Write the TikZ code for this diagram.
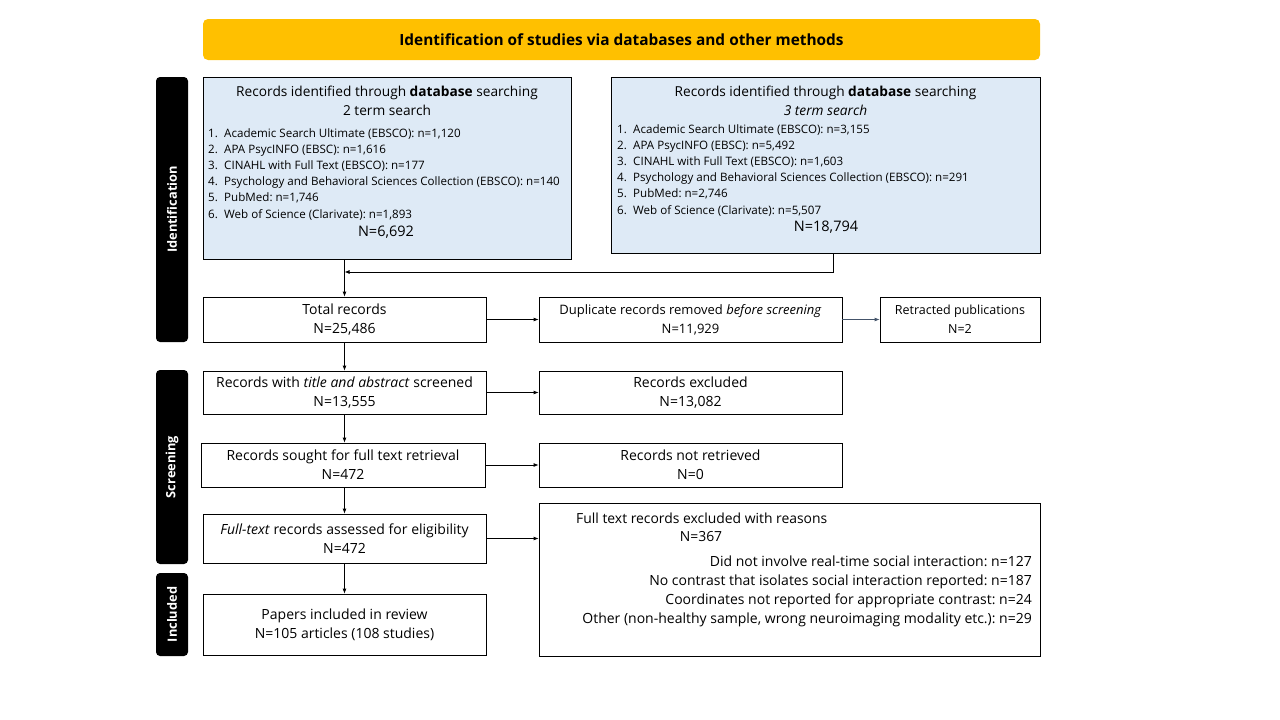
\documentclass[tikz,border=0pt]{standalone}
\usepackage{fontspec}
\setmainfont{Open Sans}
\usetikzlibrary{arrows.meta}
\definecolor{hdr}{HTML}{FFC000}
\definecolor{dbfill}{HTML}{DEEAF6}
\definecolor{slate}{HTML}{44546A}
\newcommand{\fs}[2]{\fontsize{#1}{#2}\selectfont}
\newcommand{\itm}[1]{\makebox[16pt][l]{#1}}
\begin{document}
\frenchspacing
\begin{tikzpicture}[x=1pt,y=-1pt,
  box/.style={draw=black, line width=0.8pt, inner sep=0pt, align=center, font=\fs{14}{19}},
  dbbox/.style={box, fill=dbfill},
  sidebar/.style={fill=black, rounded corners=4pt, inner sep=0pt, minimum width=32pt, text=white, font=\bfseries\fs{12.8}{16}},
  arr/.style={line width=0.8pt, -{Latex[length=5pt,width=4pt]}},
  listtxt/.style={anchor=north west, align=left, inner sep=0pt, font=\fs{11.6}{16.2}}
]
\useasboundingbox (0,0) rectangle (1280,720);

% header
\node[fill=hdr, rounded corners=5pt, minimum width=837pt, minimum height=41pt, inner sep=0pt,
      font=\bfseries\fs{15.4}{19}] (hdr) at (621.5,39.5) {Identification of studies via databases and other methods};

% side bars
\node[sidebar, minimum height=265pt] (sid) at (172,209.5) {};
\node[rotate=90, text=white, font=\bfseries\fs{12.8}{16}] (sidt) at (sid.center) {Identification};
\node[sidebar, minimum height=194pt] (sscr) at (172,467) {};
\node[rotate=90, text=white, font=\bfseries\fs{12.8}{16}] (sscrt) at (sscr.center) {Screening};
\node[sidebar, minimum height=83pt] (sinc) at (172,614.5) {};
\node[rotate=90, text=white, font=\bfseries\fs{12.8}{16}] (sinct) at (sinc.center) {Included};

% database boxes
\node[dbbox, minimum width=368pt, minimum height=182pt] (A) at (387,168) {};
\node[font=\fs{13.7}{19}, align=center, inner sep=0pt, anchor=north] (Atitle) at (387,85.5)
  {Records identified through \textbf{database} searching\\2 term search};
\node[listtxt] (Alist) at (208,128)
  {\itm{1.}Academic Search Ultimate (EBSCO): n=1,120\\
   \itm{2.}APA PsycINFO (EBSC): n=1,616\\
   \itm{3.}CINAHL with Full Text (EBSCO): n=177\\
   \itm{4.}Psychology and Behavioral Sciences Collection (EBSCO): n=140\\
   \itm{5.}PubMed: n=1,746\\
   \itm{6.}Web of Science (Clarivate): n=1,893};
\node[font=\fs{14.5}{18}, inner sep=0pt] (AN) at (386,232) {N=6,692};

\node[dbbox, minimum width=429pt, minimum height=176pt] (B) at (825.5,165) {};
\node[font=\fs{13.7}{19}, align=center, inner sep=0pt, anchor=north] (Btitle) at (825.5,85.5)
  {Records identified through \textbf{database} searching\\\textit{3 term search}};
\node[listtxt] (Blist) at (617,124)
  {\itm{1.}Academic Search Ultimate (EBSCO): n=3,155\\
   \itm{2.}APA PsycINFO (EBSC): n=5,492\\
   \itm{3.}CINAHL with Full Text (EBSCO): n=1,603\\
   \itm{4.}Psychology and Behavioral Sciences Collection (EBSCO): n=291\\
   \itm{5.}PubMed: n=2,746\\
   \itm{6.}Web of Science (Clarivate): n=5,507};
\node[font=\fs{14.5}{18}, inner sep=0pt] (BN) at (826,227) {N=18,794};

% flow boxes
\node[box, minimum width=283pt, minimum height=45pt] (tot) at (344.5,319.5) {Total records\\N=25,486};
\node[box, minimum width=303pt, minimum height=45pt, font=\fs{13}{19}] (dup) at (690.5,319.5) {Duplicate records removed \textit{before screening}\\N=11,929};
\node[box, minimum width=160pt, minimum height=45pt, font=\fs{12.5}{19}] (ret) at (960,319.5) {Retracted publications\\N=2};
\node[box, minimum width=283pt, minimum height=43pt] (ta) at (344.5,392.5) {Records with \textit{title and abstract} screened\\N=13,555};
\node[box, minimum width=303pt, minimum height=43pt] (exc) at (690.5,392.5) {Records excluded\\N=13,082};
\node[box, minimum width=284pt, minimum height=44pt] (sought) at (343,465) {Records sought for full text retrieval\\N=472};
\node[box, minimum width=303pt, minimum height=44pt] (notret) at (690.5,465) {Records not retrieved\\N=0};
\node[box, minimum width=283pt, minimum height=49pt] (ft) at (344.5,538.5) {\textit{Full-text} records assessed for eligibility\\N=472};
\node[box, minimum width=283pt, minimum height=61pt] (inc) at (344.5,624.5) {Papers included in review\\N=105 articles (108 studies)};

\node[box, minimum width=501pt, minimum height=153pt] (ftexc) at (789.5,579.5) {};
\node[anchor=west, inner sep=0pt, font=\fs{13.9}{19}] (fte1) at (576,518) {Full text records excluded with reasons};
\node[inner sep=0pt, font=\fs{13.9}{19}] (fte2) at (701,537) {N=367};
\node[anchor=north east, align=right, inner sep=0pt, font=\fs{14}{19}] (fte3) at (1032,556)
  {Did not involve real-time social interaction: n=127\\
   No contrast that isolates social interaction reported: n=187\\
   Coordinates not reported for appropriate contrast: n=24\\
   Other (non-healthy sample, wrong neuroimaging modality etc.): n=29};

% connectors
\coordinate (bj) at (833,272);
\draw[arr] (A.south -| tot.north) -- (tot.north);
\draw[arr] (B.south -| bj) |- (bj -| tot.north);
\draw[arr] (tot.east) -- (dup.west);
\draw[arr, draw=slate, -{Latex[length=5pt,width=4pt,fill=slate]}] (dup.east) -- (ret.west);
\draw[arr] (tot.south) -- (ta.north);
\draw[arr] (ta.east) -- (exc.west);
\draw[arr] (ta.south) -- (ta.south |- sought.north);
\draw[arr] (sought.east) -- (notret.west);
\draw[arr] (sought.south -| ft.north) -- (ft.north);
\draw[arr] (ft.east) -- (ft.east -| ftexc.west);
\draw[arr] (ft.south) -- (inc.north);
\end{tikzpicture}
\end{document}
